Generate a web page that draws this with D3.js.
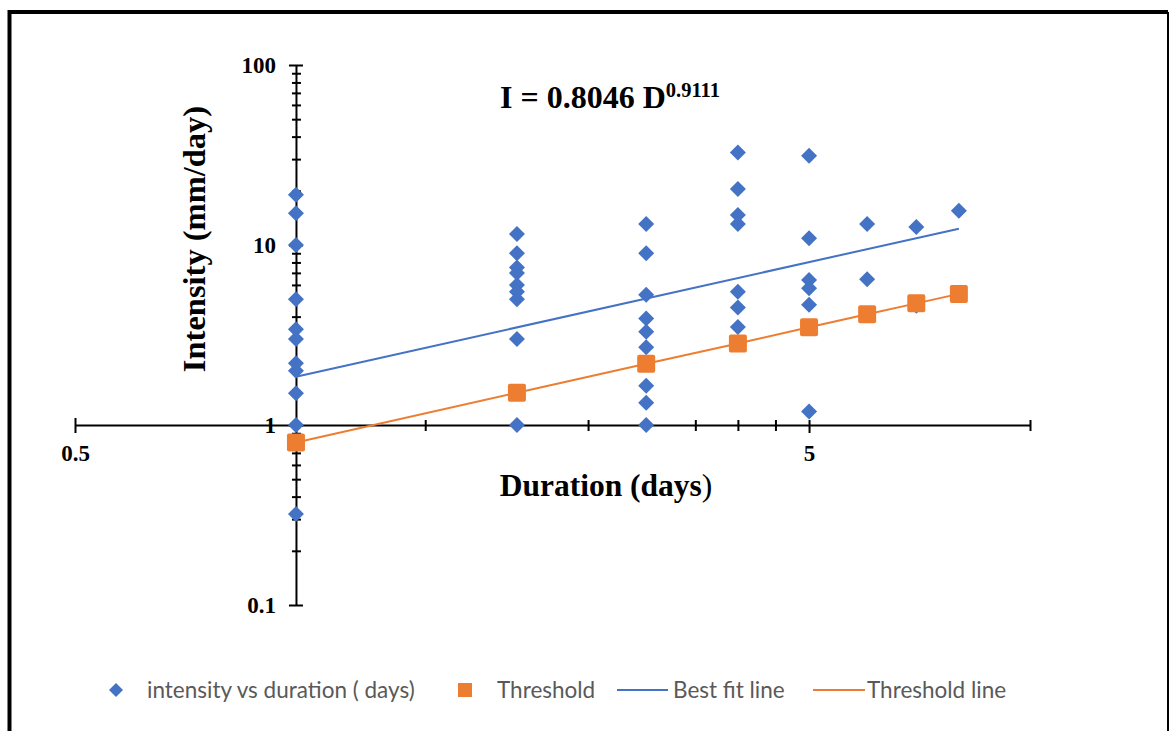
<!DOCTYPE html>
<html>
<head>
<meta charset="utf-8">
<script src="https://cdn.jsdelivr.net/npm/d3@7"></script>
<style>
  body { margin: 0; background: #fff; }
  svg { display: block; }
</style>
</head>
<body>
<svg id="chart" width="1170" height="731"></svg>
<script>
// observed points, one array per duration (days)
const durations = [1, 2, 3, 4, 5, 6, 7, 8];
const day1 = [19, 15, 10, 5, 3.4, 3, 2.2, 2, 1.5, 1, 0.32];
const day2 = [11.5, 9, 7.5, 7, 6, 5.5, 5, 3, 1];
const day3 = [13.1, 9, 5.3, 3.9, 3.3, 2.7, 1.65, 1.33, 1];
const day4 = [32.7, 20.5, 14.7, 13.1, 5.5, 4.5, 3.5];
const day5 = [31.3, 10.9, 6.4, 5.75, 4.65, 1.19];
const day6 = [13.1, 6.45];
const day7 = [12.6, 4.6];
const day8 = [15.5];
const thresholdValues = [0.80, 1.51, 2.19, 2.84, 3.49, 4.12, 4.74, 5.35];
const bestFitDays = [1, 8];
const bestFitValues = [1.855, 12.32];

const xTickValues = [0.5, 1, 1.5, 2, 2.5, 3, 3.5, 4, 4.5, 5, 10];
const xTickLabels = { 0.5: "0.5", 5: "5" };
const yTickValues = [0.1, 0.2, 0.3, 0.4, 0.5, 0.6, 0.7, 0.8, 0.9,
  1, 2, 3, 4, 5, 6, 7, 8, 9, 10, 20, 30, 40, 50, 60, 70, 80, 90, 100];
const yTickLabels = { 0.1: "0.1", 1: "1", 10: "10", 100: "100" };
const legendLabels = ["intensity vs duration ( days)", "Threshold", "Best fit line", "Threshold line"];

const blue = "#4472C4", orange = "#ED7D31";
const serif = "'Liberation Serif', 'Times New Roman', serif";

const points = [day1, day2, day3, day4, day5, day6, day7, day8]
  .flatMap((vals, i) => vals.map(v => ({ d: durations[i], v })));

const svg = d3.select("#chart");
svg.append("rect").attr("width", 1170).attr("height", 731).attr("fill", "#fff");

// frame
svg.append("path").attr("d", "M9.5,740 V12 H1168").attr("fill", "none")
  .attr("stroke", "#000").attr("stroke-width", 4);
svg.append("line").attr("x1", 1168).attr("x2", 1168).attr("y1", 12).attr("y2", 740)
  .attr("stroke", "#000").attr("stroke-width", 2);

const x = d3.scaleLog().domain([0.5, 10]).range([75, 1030]);
const y = d3.scaleLog().domain([0.1, 100]).range([605, 65]);
const xCross = x(1), yCross = y(1);

// x axis
const xAxis = svg.append("g").attr("transform", `translate(0,${yCross})`)
  .call(d3.axisBottom(x).tickValues(xTickValues).tickSizeInner(6).tickSizeOuter(0)
    .tickFormat(d => xTickLabels[d] || ""));
xAxis.select(".domain").attr("stroke-width", 2);
xAxis.selectAll(".tick line").attr("stroke-width", 2)
  .attr("y1", d => d === 0.5 ? -7 : -5).attr("y2", d => d === 5 || d === 0.5 ? 8 : 6);
xAxis.selectAll(".tick text").attr("y", 36).attr("dy", 0)
  .attr("font-family", serif).attr("font-weight", "bold").attr("font-size", 23).attr("fill", "#000");

// y axis
const yAxis = svg.append("g").attr("transform", `translate(${xCross},0)`)
  .call(d3.axisLeft(y).tickValues(yTickValues).tickSizeInner(6).tickSizeOuter(0)
    .tickFormat(d => yTickLabels[d] || ""));
yAxis.select(".domain").attr("stroke-width", 2);
yAxis.selectAll(".tick line").attr("stroke-width", 2)
  .attr("x1", d => yTickLabels[d] ? 7 : 5).attr("x2", d => yTickLabels[d] ? -7 : -4);
yAxis.selectAll(".tick text").attr("x", -20).attr("dy", "0.34em")
  .attr("font-family", serif).attr("font-weight", "bold").attr("font-size", 23).attr("fill", "#000");

// axis titles
svg.append("text").attr("x", 606).attr("y", 496).attr("text-anchor", "middle")
  .attr("font-family", serif).attr("font-size", 31.5).attr("font-weight", "bold")
  .call(t => {
    t.append("tspan").text("Duration (days");
    t.append("tspan").attr("font-weight", "normal").text(")");
  });
svg.append("text").attr("transform", "translate(205,239) rotate(-90)").attr("text-anchor", "middle")
  .attr("font-family", serif).attr("font-size", 32.5).attr("font-weight", "bold")
  .text("Intensity (mm/day)");

// equation
svg.append("text").attr("x", 500).attr("y", 108)
  .attr("font-family", serif).attr("font-size", 32).attr("font-weight", "bold")
  .call(t => {
    t.append("tspan").text("I = 0.8046 D");
    t.append("tspan").attr("font-size", 20.5).attr("dy", -11).text("0.9111");
  });

// lines
const line = d3.line().x(d => x(d[0])).y(d => y(d[1]));
svg.append("path").attr("d", line(bestFitDays.map((d, i) => [d, bestFitValues[i]])))
  .attr("fill", "none").attr("stroke", blue).attr("stroke-width", 2);
svg.append("path").attr("d", line(durations.map((d, i) => [d, thresholdValues[i]])))
  .attr("fill", "none").attr("stroke", orange).attr("stroke-width", 2);

// diamonds
const diamond = d3.symbol().type(d3.symbolSquare).size(128);
svg.append("g").selectAll("path").data(points).join("path")
  .attr("d", diamond)
  .attr("transform", d => `translate(${x(d.d)},${y(d.v)}) rotate(45)`)
  .attr("fill", blue);

// threshold squares
svg.append("g").selectAll("rect").data(durations).join("rect")
  .attr("x", d => x(d) - 9).attr("y", (d, i) => y(thresholdValues[i]) - 9)
  .attr("width", 18).attr("height", 18).attr("rx", 2).attr("fill", orange);

// legend
const ly = 690;
const leg = svg.append("g").attr("font-family", "Lato, 'Open Sans', sans-serif")
  .attr("font-size", 22.5).attr("fill", "#595959");
leg.append("path").attr("d", d3.symbol().type(d3.symbolSquare).size(98)())
  .attr("transform", `translate(116,${ly}) rotate(45)`).attr("fill", blue);
leg.append("text").attr("x", 147).attr("y", ly).attr("dy", "0.35em").text(legendLabels[0]);
leg.append("rect").attr("x", 458).attr("y", ly - 7).attr("width", 14).attr("height", 14).attr("fill", orange);
leg.append("text").attr("x", 497).attr("y", ly).attr("dy", "0.35em").text(legendLabels[1]);
leg.append("line").attr("x1", 617).attr("x2", 668).attr("y1", ly).attr("y2", ly)
  .attr("stroke", blue).attr("stroke-width", 2);
leg.append("text").attr("x", 673).attr("y", ly).attr("dy", "0.35em").text(legendLabels[2]);
leg.append("line").attr("x1", 813).attr("x2", 865).attr("y1", ly).attr("y2", ly)
  .attr("stroke", orange).attr("stroke-width", 2);
leg.append("text").attr("x", 867).attr("y", ly).attr("dy", "0.35em").text(legendLabels[3]);
</script>
</body>
</html>
